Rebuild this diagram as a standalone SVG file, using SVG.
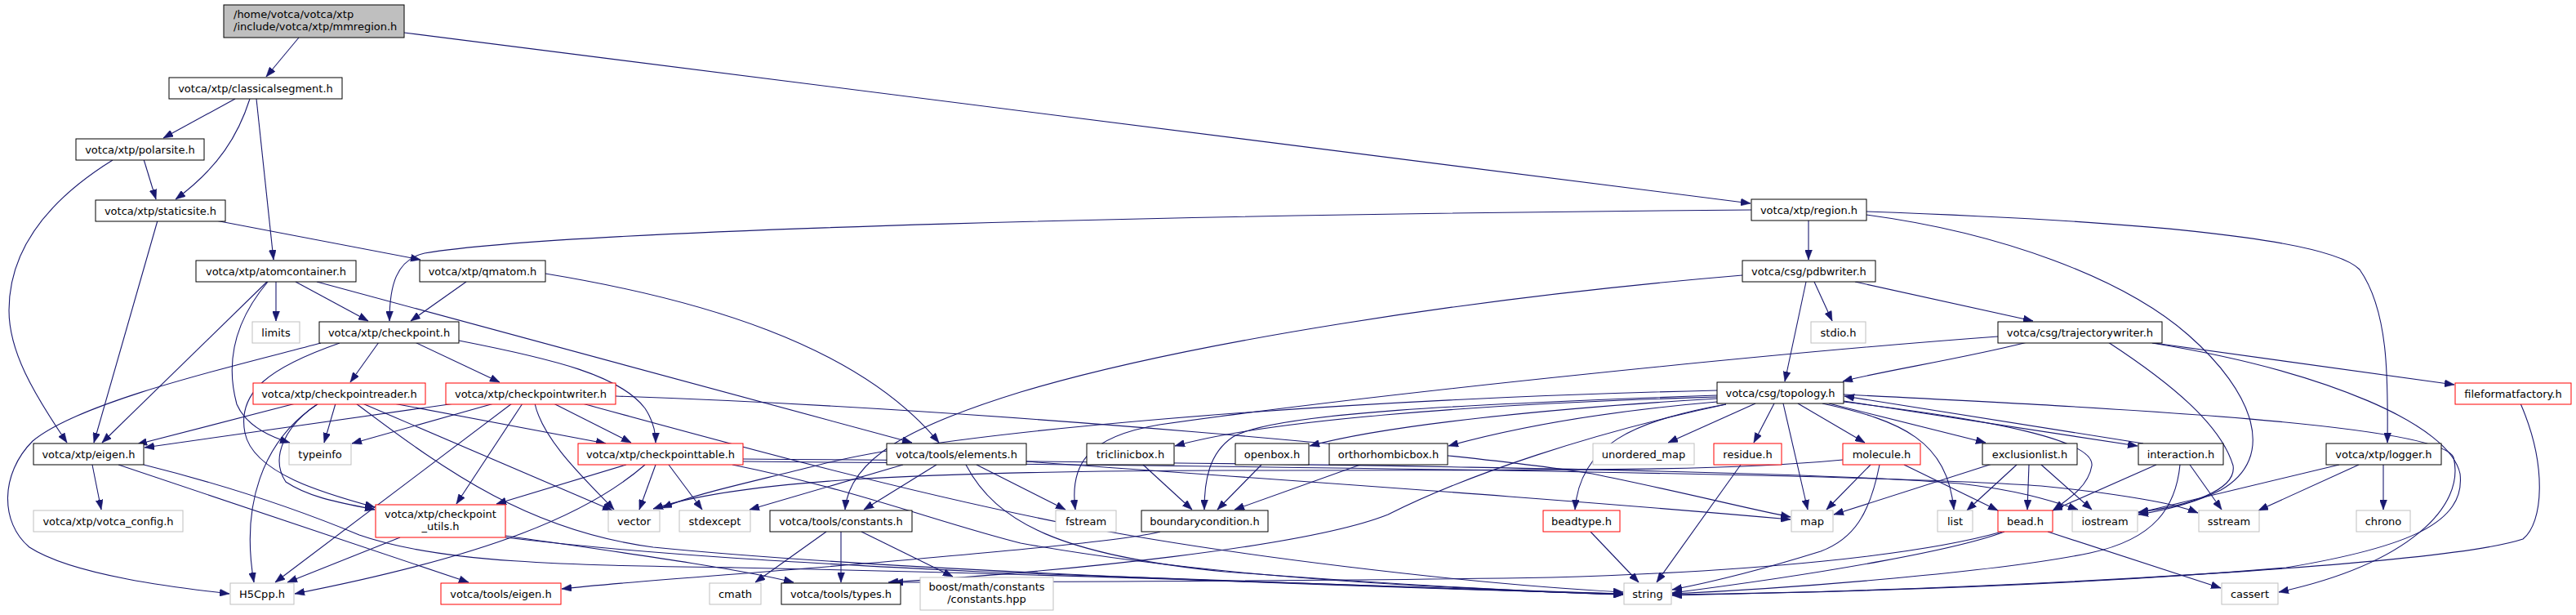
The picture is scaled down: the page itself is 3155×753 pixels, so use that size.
<svg xmlns="http://www.w3.org/2000/svg" width="3155" height="753" viewBox="0 0 3155 753">
<style>
.n rect{fill:#fff;stroke:#000;stroke-width:1}
.n.x rect{stroke:#bfbfbf}
.n.r rect{stroke:#f00}
.n.root rect{fill:#bfbfbf;stroke:#000}
text{font-family:"DejaVu Sans","Liberation Sans",sans-serif;font-size:13px;fill:#000;text-anchor:middle}
#edges path{fill:none;stroke:#191970;stroke-width:1.1;marker-end:url(#a)}
</style>
<defs>
<marker id="a" markerUnits="userSpaceOnUse" markerWidth="12" markerHeight="9" viewBox="0 0 12 9" refX="12" refY="4.5" orient="auto">
<path d="M0,0 L12,4.5 L0,9 Z" fill="#191970" stroke="#191970" stroke-width="0.5"/>
</marker>
</defs>
<rect width="3155" height="753" fill="#fff"/>
<g id="edges">
<path d="M366,46 L326,94"/>
<path d="M495,40 L2144,249"/>
<path d="M288,121 L200,169"/>
<path d="M306,121 C292,165 268,205 215,244"/>
<path d="M314,121 L335,318"/>
<path d="M176,195 L191,244"/>
<path d="M138,196 C80,232 11,290 11,380 C11,430 40,480 82,542"/>
<path d="M193,270 L115,542"/>
<path d="M264,270 L515,318"/>
<path d="M338,345 L338,393"/>
<path d="M362,345 L451,393"/>
<path d="M327,345 L125,542"/>
<path d="M328,345 C290,390 275,440 290,495 C300,518 325,533 355,542"/>
<path d="M388,345 L1117,542"/>
<path d="M571,345 L503,393"/>
<path d="M668,335 C850,365 1050,420 1150,542"/>
<path d="M2145,257 C1500,262 700,280 520,310 C485,318 477,350 477,393"/>
<path d="M2215,270 L2215,318"/>
<path d="M2286,263 C2450,285 2600,340 2680,410 C2760,480 2790,560 2720,600 C2690,615 2650,625 2619,630"/>
<path d="M2286,259 C2600,270 2850,290 2890,330 C2925,380 2925,460 2924,542"/>
<path d="M2212,345 L2186,467"/>
<path d="M2222,345 L2244,393"/>
<path d="M2272,345 L2490,393"/>
<path d="M2134,337 C1800,365 1450,420 1250,480 C1120,520 1040,560 1035,624"/>
<path d="M464,419 L429,468"/>
<path d="M508,419 L612,468"/>
<path d="M562,417 C680,440 760,460 790,500 C800,515 803,530 803,542"/>
<path d="M393,420 C300,445 100,490 40,540 C0,580 0,640 36,670 C90,705 220,720 281,727"/>
<path d="M416,420 C330,450 290,480 300,530 C310,580 400,605 459,621"/>
<path d="M362,494 L168,544"/>
<path d="M411,494 L397,542"/>
<path d="M390,494 C350,520 330,560 350,590 C380,610 420,616 459,624"/>
<path d="M390,494 C320,540 295,620 311,713"/>
<path d="M482,494 L742,543"/>
<path d="M444,494 L750,625"/>
<path d="M436,494 C550,580 650,650 800,670 C1100,700 1700,720 1988,727"/>
<path d="M557,494 L177,548"/>
<path d="M605,494 L431,543"/>
<path d="M627,494 L337,713"/>
<path d="M640,494 L559,617"/>
<path d="M655,494 C665,540 720,590 752,624"/>
<path d="M678,494 L773,542"/>
<path d="M713,494 C900,545 1100,600 1300,640 C1500,680 1800,715 1988,725"/>
<path d="M754,485 C1200,500 1800,555 1950,580 C2050,600 2150,625 2193,633"/>
<path d="M767,569 L608,617"/>
<path d="M790,569 C720,630 600,680 361,727"/>
<path d="M803,569 L783,624"/>
<path d="M819,569 L860,624"/>
<path d="M910,562 C1500,566 2200,575 2400,592 C2470,600 2510,612 2545,624"/>
<path d="M897,569 C1050,600 1150,640 1250,665 C1500,710 1800,722 1988,727"/>
<path d="M910,565 C1500,570 2300,580 2500,595 C2600,605 2660,615 2692,628"/>
<path d="M113,569 L124,624"/>
<path d="M145,569 L574,713"/>
<path d="M176,569 C300,600 380,630 440,655 C540,690 700,692 900,695 C1400,705 1800,722 1988,728"/>
<path d="M490,658 L352,713"/>
<path d="M619,656 C750,675 900,695 972,713"/>
<path d="M619,658 C800,680 1000,690 1200,700 C1600,715 1850,724 1988,728"/>
<path d="M1106,569 L918,624"/>
<path d="M1147,569 L1058,624"/>
<path d="M1196,569 L1305,624"/>
<path d="M1183,569 C1220,640 1300,680 1500,700 C1700,715 1850,724 1988,728"/>
<path d="M1257,565 C1600,590 1900,610 2193,636"/>
<path d="M2103,478 C1600,490 1150,530 1000,570 C900,595 850,605 811,622"/>
<path d="M2257,563 C2100,578 1900,575 1500,576 C1100,577 900,590 800,623"/>
<path d="M2103,484 C1800,495 1560,505 1510,535 C1480,555 1475,590 1475,624"/>
<path d="M2103,488 C1900,500 1700,520 1604,546"/>
<path d="M2103,486 C1800,495 1550,515 1439,546"/>
<path d="M2103,492 C1950,505 1850,525 1774,546"/>
<path d="M2114,495 C1950,530 1800,580 1700,630 C1600,670 1300,700 1088,713"/>
<path d="M2114,495 C2000,515 1935,545 1929,624"/>
<path d="M2150,494 L2043,542"/>
<path d="M2173,494 L2148,542"/>
<path d="M2184,494 L2214,624"/>
<path d="M2202,494 L2284,542"/>
<path d="M2232,494 C2330,515 2385,540 2393,624"/>
<path d="M2240,494 L2432,542"/>
<path d="M2258,491 L2618,546"/>
<path d="M2625,543 L2259,485"/>
<path d="M2258,492 C2450,515 2565,540 2562,570 C2558,595 2535,610 2515,624"/>
<path d="M2258,483 C2600,500 2990,520 3005,560 C3020,620 2950,690 2791,725"/>
<path d="M2636,420 C2850,455 3000,520 3013,580 C3020,640 2950,670 2800,695 C2500,720 2200,726 2048,728"/>
<path d="M2447,412 C2200,430 1700,480 1420,520 C1330,535 1310,570 1317,624"/>
<path d="M2483,419 C2400,440 2300,455 2257,467"/>
<path d="M2582,419 C2660,470 2720,520 2735,570 C2740,600 2680,620 2619,627"/>
<path d="M2631,419 L3006,471"/>
<path d="M3087,494 C3120,570 3115,640 3090,660 C3000,690 2500,720 2048,729"/>
<path d="M2865,569 L2619,628"/>
<path d="M2889,569 L2766,625"/>
<path d="M2919,569 L2919,624"/>
<path d="M2641,569 L2514,625"/>
<path d="M2682,569 L2721,624"/>
<path d="M2670,569 C2665,620 2640,660 2560,677 C2450,700 2200,720 2048,727"/>
<path d="M2470,569 L2409,625"/>
<path d="M2485,569 L2483,624"/>
<path d="M2500,569 L2562,624"/>
<path d="M2440,568 L2246,630"/>
<path d="M2291,569 L2237,624"/>
<path d="M2302,569 C2290,630 2270,660 2230,675 C2150,700 2100,712 2048,722"/>
<path d="M2332,569 L2447,625"/>
<path d="M2455,651 C2400,672 2250,700 2048,726"/>
<path d="M2452,651 C2350,680 2150,700 1900,707 C1600,712 1300,712 1094,713"/>
<path d="M2508,651 L2720,720"/>
<path d="M2132,569 L2029,713"/>
<path d="M1948,651 L2007,713"/>
<path d="M1421,651 C1380,662 1200,678 1000,695 C850,707 750,714 688,721"/>
<path d="M1666,569 L1512,624"/>
<path d="M1545,569 L1491,624"/>
<path d="M1400,569 L1460,624"/>
<path d="M1012,651 L925,713"/>
<path d="M1030,651 L1030,713"/>
<path d="M1055,651 L1167,706"/>
</g>
<g id="n_root" class="n root"><rect x="274" y="6" width="221" height="40"/><text x="286" y="21.5" style="text-anchor:start">/home/votca/votca/xtp</text><text x="286" y="36.5" style="text-anchor:start">/include/votca/xtp/mmregion.h</text></g>
<g id="n_classicalsegment" class="n"><rect x="207" y="95" width="212" height="26"/><text x="313" y="112.5">votca/xtp/classicalsegment.h</text></g>
<g id="n_polarsite" class="n"><rect x="93" y="170" width="157" height="26"/><text x="171.5" y="187.5">votca/xtp/polarsite.h</text></g>
<g id="n_staticsite" class="n"><rect x="117" y="245" width="159" height="26"/><text x="196.5" y="262.5">votca/xtp/staticsite.h</text></g>
<g id="n_atomcontainer" class="n"><rect x="240" y="319" width="196" height="26"/><text x="338" y="336.5">votca/xtp/atomcontainer.h</text></g>
<g id="n_qmatom" class="n"><rect x="514" y="319" width="154" height="26"/><text x="591" y="336.5">votca/xtp/qmatom.h</text></g>
<g id="n_region" class="n"><rect x="2145" y="244" width="141" height="26"/><text x="2215.5" y="261.5">votca/xtp/region.h</text></g>
<g id="n_pdbwriter" class="n"><rect x="2134" y="319" width="163" height="26"/><text x="2215.5" y="336.5">votca/csg/pdbwriter.h</text></g>
<g id="n_limits" class="n x"><rect x="309" y="394" width="58" height="26"/><text x="338" y="411.5">limits</text></g>
<g id="n_checkpoint" class="n"><rect x="391" y="394" width="171" height="26"/><text x="476.5" y="411.5">votca/xtp/checkpoint.h</text></g>
<g id="n_stdio" class="n x"><rect x="2218" y="394" width="67" height="26"/><text x="2251.5" y="411.5">stdio.h</text></g>
<g id="n_trajectorywriter" class="n"><rect x="2447" y="394" width="201" height="26"/><text x="2547.5" y="411.5">votca/csg/trajectorywriter.h</text></g>
<g id="n_checkpointreader" class="n r"><rect x="310" y="469" width="211" height="26"/><text x="415.5" y="486.5">votca/xtp/checkpointreader.h</text></g>
<g id="n_checkpointwriter" class="n r"><rect x="546" y="469" width="208" height="26"/><text x="650" y="486.5">votca/xtp/checkpointwriter.h</text></g>
<g id="n_topology" class="n"><rect x="2103" y="468" width="155" height="26"/><text x="2180.5" y="485.5">votca/csg/topology.h</text></g>
<g id="n_fileformatfactory" class="n r"><rect x="3007" y="469" width="142" height="26"/><text x="3078" y="486.5">fileformatfactory.h</text></g>
<g id="n_xtpeigen" class="n"><rect x="41" y="543" width="135" height="26"/><text x="108.5" y="560.5">votca/xtp/eigen.h</text></g>
<g id="n_typeinfo" class="n x"><rect x="354" y="543" width="76" height="26"/><text x="392" y="560.5">typeinfo</text></g>
<g id="n_checkpointtable" class="n r"><rect x="708" y="543" width="202" height="26"/><text x="809" y="560.5">votca/xtp/checkpointtable.h</text></g>
<g id="n_elements" class="n"><rect x="1086" y="543" width="171" height="26"/><text x="1171.5" y="560.5">votca/tools/elements.h</text></g>
<g id="n_triclinicbox" class="n"><rect x="1331" y="543" width="107" height="26"/><text x="1384.5" y="560.5">triclinicbox.h</text></g>
<g id="n_openbox" class="n"><rect x="1513" y="543" width="90" height="26"/><text x="1558" y="560.5">openbox.h</text></g>
<g id="n_orthorhombicbox" class="n"><rect x="1628" y="543" width="145" height="26"/><text x="1700.5" y="560.5">orthorhombicbox.h</text></g>
<g id="n_unordered_map" class="n x"><rect x="1951" y="543" width="124" height="26"/><text x="2013" y="560.5">unordered_map</text></g>
<g id="n_residue" class="n r"><rect x="2099" y="543" width="83" height="26"/><text x="2140.5" y="560.5">residue.h</text></g>
<g id="n_molecule" class="n r"><rect x="2257" y="543" width="95" height="26"/><text x="2304.5" y="560.5">molecule.h</text></g>
<g id="n_exclusionlist" class="n"><rect x="2428" y="543" width="116" height="26"/><text x="2486" y="560.5">exclusionlist.h</text></g>
<g id="n_interaction" class="n"><rect x="2619" y="543" width="104" height="26"/><text x="2671" y="560.5">interaction.h</text></g>
<g id="n_logger" class="n"><rect x="2849" y="543" width="141" height="26"/><text x="2919.5" y="560.5">votca/xtp/logger.h</text></g>
<g id="n_votca_config" class="n x"><rect x="41" y="625" width="183" height="26"/><text x="132.5" y="642.5">votca/xtp/votca_config.h</text></g>
<g id="n_checkpoint_utils" class="n r"><rect x="460" y="618" width="159" height="40"/><text x="539.5" y="633.5">votca/xtp/checkpoint</text><text x="539.5" y="648.5">_utils.h</text></g>
<g id="n_vector" class="n x"><rect x="745" y="625" width="63" height="26"/><text x="776.5" y="642.5">vector</text></g>
<g id="n_stdexcept" class="n x"><rect x="832" y="625" width="87" height="26"/><text x="875.5" y="642.5">stdexcept</text></g>
<g id="n_constants" class="n"><rect x="943" y="625" width="174" height="26"/><text x="1030" y="642.5">votca/tools/constants.h</text></g>
<g id="n_fstream" class="n x"><rect x="1293" y="625" width="74" height="26"/><text x="1330" y="642.5">fstream</text></g>
<g id="n_boundarycondition" class="n"><rect x="1398" y="625" width="155" height="26"/><text x="1475.5" y="642.5">boundarycondition.h</text></g>
<g id="n_beadtype" class="n r"><rect x="1890" y="625" width="94" height="26"/><text x="1937" y="642.5">beadtype.h</text></g>
<g id="n_map" class="n x"><rect x="2194" y="625" width="51" height="26"/><text x="2219.5" y="642.5">map</text></g>
<g id="n_list" class="n x"><rect x="2373" y="625" width="43" height="26"/><text x="2394.5" y="642.5">list</text></g>
<g id="n_bead" class="n r"><rect x="2447" y="625" width="67" height="26"/><text x="2480.5" y="642.5">bead.h</text></g>
<g id="n_iostream" class="n x"><rect x="2538" y="625" width="80" height="26"/><text x="2578" y="642.5">iostream</text></g>
<g id="n_sstream" class="n x"><rect x="2693" y="625" width="74" height="26"/><text x="2730" y="642.5">sstream</text></g>
<g id="n_chrono" class="n x"><rect x="2886" y="625" width="66" height="26"/><text x="2919" y="642.5">chrono</text></g>
<g id="n_H5Cpp" class="n x"><rect x="282" y="714" width="78" height="26"/><text x="321" y="731.5">H5Cpp.h</text></g>
<g id="n_toolseigen" class="n r"><rect x="540" y="714" width="147" height="26"/><text x="613.5" y="731.5">votca/tools/eigen.h</text></g>
<g id="n_cmath" class="n x"><rect x="869" y="714" width="63" height="26"/><text x="900.5" y="731.5">cmath</text></g>
<g id="n_types" class="n"><rect x="957" y="714" width="146" height="26"/><text x="1030" y="731.5">votca/tools/types.h</text></g>
<g id="n_boostconstants" class="n x"><rect x="1127" y="707" width="163" height="40"/><text x="1208.5" y="722.5">boost/math/constants</text><text x="1208.5" y="737.5">/constants.hpp</text></g>
<g id="n_string" class="n x"><rect x="1989" y="714" width="58" height="26"/><text x="2018" y="731.5">string</text></g>
<g id="n_cassert" class="n x"><rect x="2721" y="714" width="69" height="26"/><text x="2755.5" y="731.5">cassert</text></g>
</svg>
